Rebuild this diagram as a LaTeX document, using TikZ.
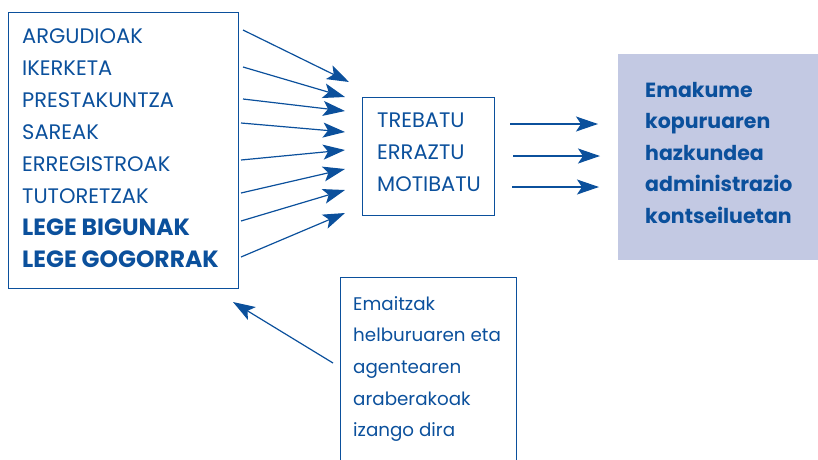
\documentclass[tikz,border=0pt]{standalone}
\usepackage{fontspec}
\setmainfont{Poppins}
\usetikzlibrary{arrows.meta}
\definecolor{dblue}{HTML}{0B509C}
\definecolor{lav}{HTML}{C3C9E3}
\tikzset{
  box/.style={draw=dblue, line width=1.3pt, rectangle, inner sep=0pt, anchor=north west},
  txt/.style={anchor=base west, inner sep=0pt, text=dblue, font=\fontsize{21}{24}\selectfont},
  ntxt/.style={txt, font=\fontsize{18.3}{24}\selectfont},
  btxt/.style={txt, font=\fontsize{23.5}{24}\selectfont\bfseries},
  rtxt/.style={txt, font=\fontsize{20.5}{24}\selectfont\bfseries},
  arr/.style={draw=dblue, line width=1.2pt, -{Stealth[length=22pt,width=15pt,inset=5pt]}}
}
\begin{document}
\begin{tikzpicture}[x=1pt,y=-1pt]
\useasboundingbox (0,0) rectangle (818,459);
\clip (0,0) rectangle (818,459);
% boxes
\node[box, minimum width=230pt, minimum height=276pt] (left) at (8,12) {};
\node[box, minimum width=132pt, minimum height=118pt] (mid) at (362,97) {};
\node[box, draw=none, fill=lav, minimum width=202pt, minimum height=206pt] (goal) at (617,53) {};
\node[box, minimum width=176pt, minimum height=200pt] (note) at (340,277) {};
% left texts
\foreach \t/\y [count=\i] in {ARGUDIOAK/43,IKERKETA/75,PRESTAKUNTZA/107,SAREAK/139,ERREGISTROAK/171,TUTORETZAK/203}
  \node[txt] (l\i) at (22,\y) {\t};
\node[btxt] (l7) at (22,235) {LEGE BIGUNAK};
\node[btxt] (l8) at (22,267) {LEGE GOGORRAK};
% middle texts
\foreach \t/\y [count=\i] in {TREBATU/127,ERRAZTU/159,MOTIBATU/191}
  \node[txt] (m\i) at (377,\y) {\t};
% right texts
\foreach \t/\y [count=\i] in {Emakume/97,kopuruaren/128.5,hazkundea/160,administrazio/191.5,kontseiluetan/223}
  \node[rtxt] (r\i) at (645,\y) {\t};
% note texts
\foreach \t/\y [count=\i] in {Emaitzak/310,helburuaren eta/341.5,agentearen/373,araberakoak/405,izango dira/436.5}
  \node[ntxt] (n\i) at (353,\y) {\t};
% arrow coordinates
\foreach \sx/\sy/\ex/\ey [count=\i] in {243/30/349/82, 243/67/345/97, 243/99/345/111, 241/123/345/132, 241/160/345/150, 241/193/345/169, 241/221/345/190, 241/257/345/213}
{
  \coordinate (s\i) at (\sx,\sy);
  \coordinate (e\i) at (\ex,\ey);
  \draw[arr] (s\i) -- (e\i);
}
\coordinate (a1) at (510,124); \coordinate (b1) at (598,124);
\coordinate (a2) at (513,156); \coordinate (b2) at (600,156);
\coordinate (a3) at (512,187); \coordinate (b3) at (599,187);
\foreach \i in {1,2,3} \draw[arr] (a\i) -- (b\i);
\coordinate (fs) at (333,363); \coordinate (fe) at (233,302);
\draw[arr] (fs) -- (fe);
\end{tikzpicture}
\end{document}
